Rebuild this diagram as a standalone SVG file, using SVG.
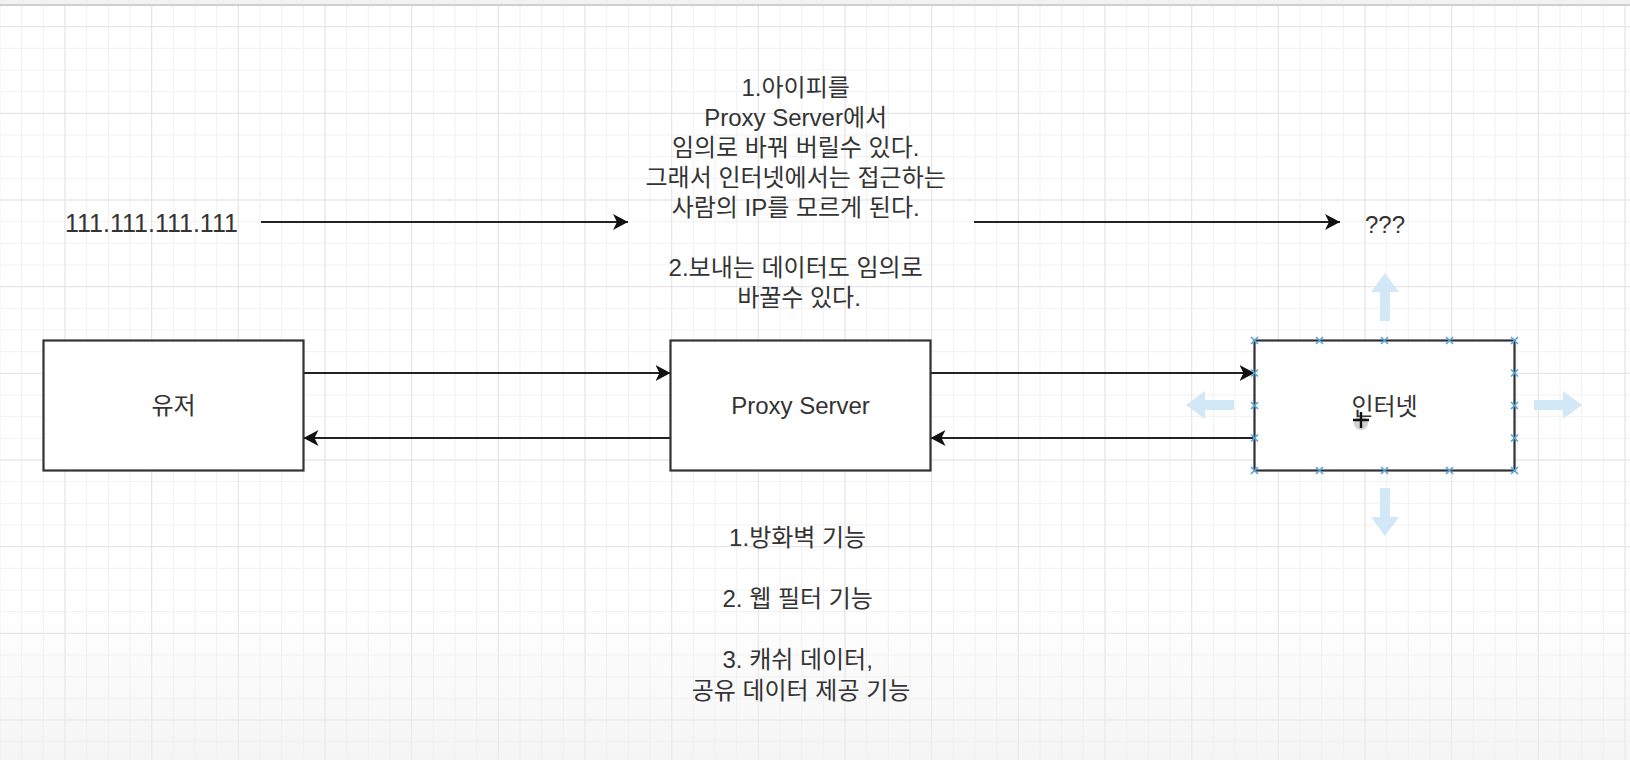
<svg xmlns="http://www.w3.org/2000/svg" width="1630" height="760" viewBox="0 0 1630 760">
<style>
.box{fill:#ffffff;stroke:#333333;stroke-width:2.2}
.lbl{font-family:'Liberation Sans','Noto Sans CJK KR',sans-serif;font-size:24px;fill:#333333}
.edge{stroke:#222222;stroke-width:2.2;fill:none}
.hint{fill:#d3e8f6}
.cp{stroke:#5aa5d8;stroke-width:1.6;fill:none}
</style>
<defs>
<pattern id="gMinor" width="21.667" height="21.667" patternUnits="userSpaceOnUse" x="-0.5" y="4.5">
<rect width="1" height="21.667" fill="#f1f1f1"/><rect width="21.667" height="1" fill="#f1f1f1"/>
</pattern>
<pattern id="gMajor" width="86.667" height="86.667" patternUnits="userSpaceOnUse" x="64.5" y="26.17">
<rect width="1" height="86.667" fill="#e4e4e4"/><rect width="86.667" height="1" fill="#e4e4e4"/>
</pattern>
<linearGradient id="fade" x1="0" y1="0" x2="0" y2="1">
<stop offset="0" stop-color="#eeeeee" stop-opacity="0"/>
<stop offset="1" stop-color="#eeeeee" stop-opacity="0.6"/>
</linearGradient>
<marker id="arr" markerUnits="userSpaceOnUse" markerWidth="18" markerHeight="18" refX="15" refY="8" orient="auto">
<path d="M0,0 L15,8 L0,16 L4,8 Z" fill="#111111"/>
</marker>
<path id="hintArrow" d="M0,-24 L14,-5 L5,-5 L5,24 L-5,24 L-5,-5 L-14,-5 Z"/>
<path id="xm" d="M-3.5,-3.5 L3.5,3.5 M3.5,-3.5 L-3.5,3.5"/>
</defs>

<g id="background">
<rect width="1630" height="760" fill="#ffffff"/>
<rect x="0" y="5" width="1630" height="755" fill="url(#gMinor)"/>
<rect x="0" y="5" width="1630" height="755" fill="url(#gMajor)"/>
<rect x="0" y="600" width="1630" height="160" fill="url(#fade)"/>
<rect x="0" y="0" width="1630" height="4" fill="#f2f2f2"/>
<line x1="0" y1="5" x2="1630" y2="5" stroke="#cfcfcf" stroke-width="2"/>
</g>

<g id="connectors">
<line class="edge" x1="261" y1="222" x2="628" y2="222" marker-end="url(#arr)"/>
<line class="edge" x1="974" y1="222" x2="1340" y2="222" marker-end="url(#arr)"/>
<line class="edge" x1="303.5" y1="373" x2="670.5" y2="373" marker-end="url(#arr)"/>
<line class="edge" x1="670.5" y1="438" x2="303.5" y2="438" marker-end="url(#arr)"/>
<line class="edge" x1="930.5" y1="373" x2="1254.5" y2="373" marker-end="url(#arr)"/>
<line class="edge" x1="1254.5" y1="438" x2="930.5" y2="438" marker-end="url(#arr)"/>
</g>

<g id="node-user">
<rect class="box" x="43.5" y="340.5" width="260" height="130"/>
<text class="lbl" x="173.5" y="414" text-anchor="middle">유저</text>
</g>

<g id="node-proxy">
<rect class="box" x="670.5" y="340.5" width="260" height="130"/>
<text class="lbl" x="800.5" y="414" text-anchor="middle">Proxy Server</text>
</g>

<g id="node-internet">
<g id="selection-hints">
<use href="#hintArrow" class="hint" transform="translate(1385,297)"/>
<use href="#hintArrow" class="hint" transform="translate(1385,512) rotate(180)"/>
<use href="#hintArrow" class="hint" transform="translate(1210,405) rotate(-90)"/>
<use href="#hintArrow" class="hint" transform="translate(1558,405) rotate(90)"/>
</g>
<rect class="box" x="1254.5" y="340.5" width="260" height="130"/>
<text class="lbl" x="1384.5" y="415" text-anchor="middle">인터넷</text>
<g id="connection-points" class="cp">
<use href="#xm" x="1254.5" y="340.5"/><use href="#xm" x="1319.5" y="340.5"/><use href="#xm" x="1384.5" y="340.5"/><use href="#xm" x="1449.5" y="340.5"/><use href="#xm" x="1514.5" y="340.5"/>
<use href="#xm" x="1254.5" y="470.5"/><use href="#xm" x="1319.5" y="470.5"/><use href="#xm" x="1384.5" y="470.5"/><use href="#xm" x="1449.5" y="470.5"/><use href="#xm" x="1514.5" y="470.5"/>
<use href="#xm" x="1254.5" y="373"/><use href="#xm" x="1254.5" y="405.5"/><use href="#xm" x="1254.5" y="438"/>
<use href="#xm" x="1514.5" y="373"/><use href="#xm" x="1514.5" y="405.5"/><use href="#xm" x="1514.5" y="438"/>
</g>
<g id="cursor">
<circle cx="1361" cy="423" r="7" fill="#9a9a9a" opacity="0.45"/>
<path d="M1361,412 L1361,428 M1353,420 L1369,420" stroke="#111111" stroke-width="2.4"/>
</g>
</g>

<g id="label-ip">
<text class="lbl" x="65" y="232" style="font-size:25px">111.111.111.111</text>
</g>

<g id="label-unknown">
<text class="lbl" x="1365" y="233">???</text>
</g>

<g id="note-top">
<text class="lbl" text-anchor="middle">
<tspan x="799" y="95.5">1.아이피를</tspan>
<tspan x="799" y="125.5">Proxy Server에서</tspan>
<tspan x="799" y="155.5">임의로 바꿔 버릴수 있다.</tspan>
<tspan x="799" y="185.5">그래서 인터넷에서는 접근하는</tspan>
<tspan x="799" y="215.5">사람의 IP를 모르게 된다.</tspan>
<tspan x="799" y="275.5">2.보내는 데이터도 임의로</tspan>
<tspan x="799" y="305.5">바꿀수 있다.</tspan>
</text>
</g>

<g id="note-bottom">
<text class="lbl" text-anchor="middle">
<tspan x="801" y="545.5">1.방화벽 기능</tspan>
<tspan x="801" y="606.8">2. 웹 필터 기능</tspan>
<tspan x="801" y="668.1">3. 캐쉬 데이터,</tspan>
<tspan x="801" y="698.8">공유 데이터 제공 기능</tspan>
</text>
</g>
</svg>
